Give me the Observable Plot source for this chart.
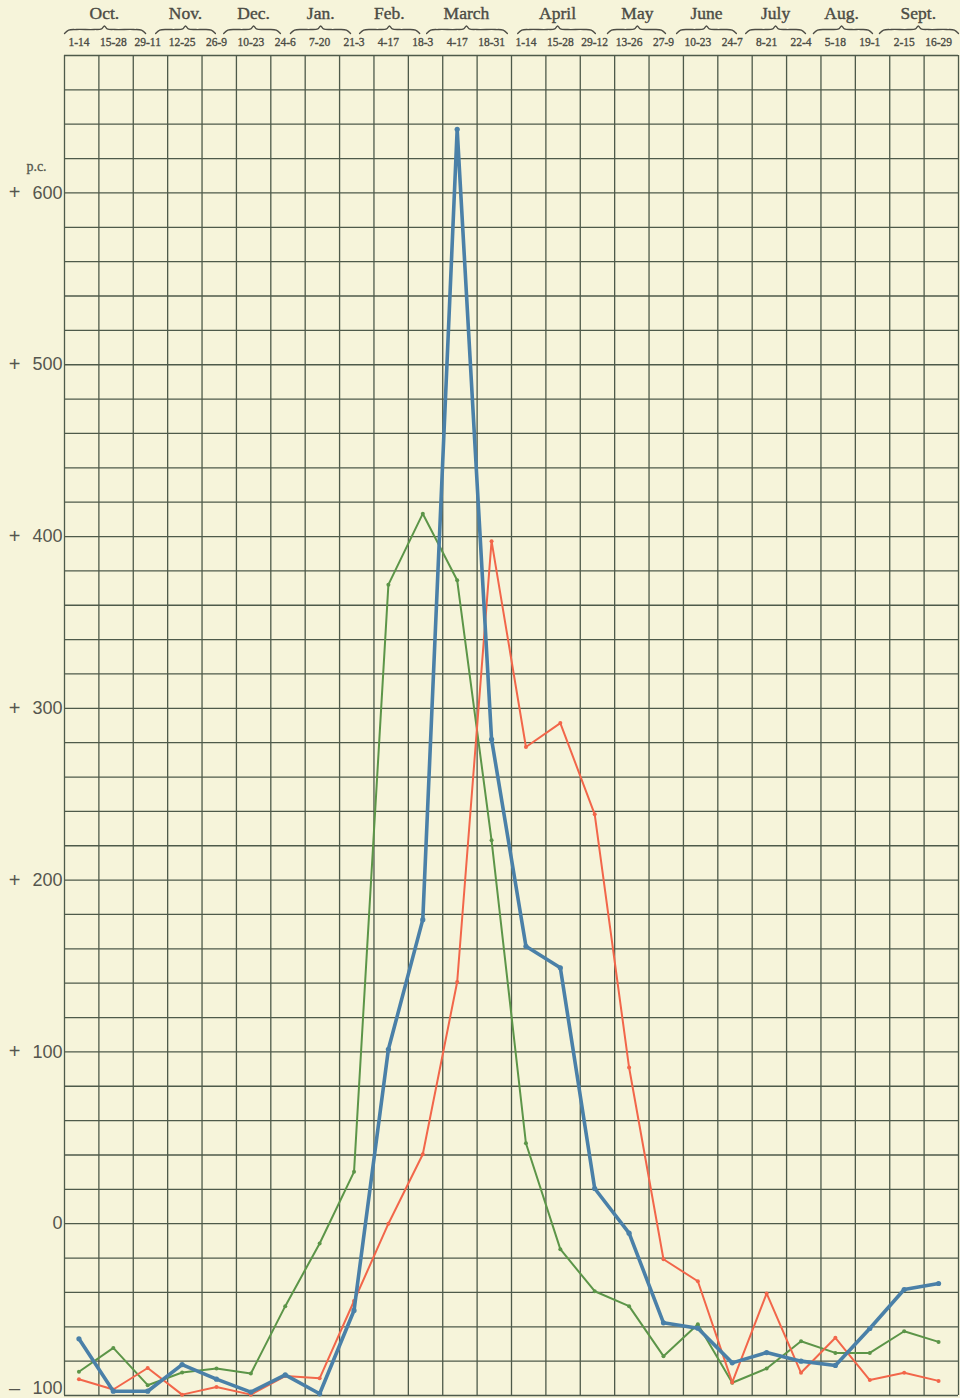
<!DOCTYPE html>
<html>
<head>
<meta charset="utf-8">
<script src="https://cdn.jsdelivr.net/npm/d3@7"></script>
<script src="https://cdn.jsdelivr.net/npm/@observablehq/plot@0.6"></script>
<style>
  html, body { margin: 0; padding: 0; background: #f6f4da; }
  #chart svg { display: block; }
</style>
</head>
<body>
<div id="chart"></div>
<script>
// ---- data ----
const periods = ["1-14","15-28","29-11","12-25","26-9","10-23","24-6","7-20","21-3","4-17","18-3","4-17","18-31",
                 "1-14","15-28","29-12","13-26","27-9","10-23","24-7","8-21","22-4","5-18","19-1","2-15","16-29"];
const months = ["Oct.","Nov.","Dec.","Jan.","Feb.","March","April","May","June","July","Aug.","Sept."];
// span of each month's brace, in period units (start, tip, end)
const monthStart = [0.0, 2.65, 4.63, 6.57, 8.58, 10.53, 13.18, 15.79, 17.80, 19.81, 21.78, 23.70];
const monthTip   = [1.16, 3.52, 5.50, 7.45, 9.45, 11.69, 14.34, 16.66, 18.67, 20.68, 22.60, 24.83];
const monthEnd   = [2.36, 4.39, 6.28, 8.32, 10.33, 12.88, 15.44, 17.48, 19.54, 21.55, 23.50, 26.0];

const blueSeries  = [-67, -97.5, -97.5, -82, -90.5, -98, -88, -99, -50.5, 101.5, 177, 637, 282,
                     161.5, 149, 20.5, -5.5, -57.7, -60.8, -81, -75, -80, -82.5, -61, -38.3, -34.8];
const redSeries   = [-90.5, -96.5, -84, -99.5, -95, -99.5, -88.7, -90, -45, 0, 40.4, 140.7, 397.3,
                     277.5, 291.4, 238.3, 90.9, -20.7, -33.5, -92.4, -40.6, -86.8, -66.4, -91, -86.8, -91.5];
const greenSeries = [-86.2, -72.3, -94, -86.6, -84.3, -87.2, -48, -11.5, 30.2, 372, 413.3, 374.5, 223.2,
                     46.8, -14.8, -39.3, -48, -77.1, -58.5, -92.6, -84.3, -68.4, -75.2, -75.2, -62.6, -68.8];

const yTickValues = [600, 500, 400, 300, 200, 100, 0, -100];
const yTickSigns  = ["+", "+", "+", "+", "+", "+", "", "\u2013"];
const unitLabel = "p.c.";

// ---- layout constants ----
const W = 960, H = 1398, mTop = 55, mBottom = 3, mLeft = 64, mRight = 2;
const yMin = -100, yMax = 680;
const pxPerUnit = (H - mTop - mBottom) / (yMax - yMin);
const yAtPx = px => yMax + (mTop - px) / pxPerUnit; // convert header pixel row to y value
const xOff = 0.42; // points sit slightly left of column centres in the original

const gridColor = "#4e5a4a";
const textColor = "#55564e";
const headColor = "#4c4c45";
const blueC = "#4a80a8", redC = "#f2664a", greenC = "#5c9548";

const mk = (vals, name) => vals.map((v, i) => ({i: i + xOff, v, name}));
const blue = mk(blueSeries, "blue"), red = mk(redSeries, "red"), green = mk(greenSeries, "green");

const monthData = months.map((m, k) => ({m, s: monthStart[k], t: monthTip[k], e: monthEnd[k]}));
const bracePts = monthData.flatMap(({m, s, t, e}) => [
  [s, 33], [s + 0.12, 29.6], [s + 0.35, 29], [t - 0.3, 29], [t - 0.08, 28.4], [t, 25.5],
  [t + 0.08, 28.4], [t + 0.3, 29], [e - 0.35, 29], [e - 0.12, 29.6], [e, 33]
].map(([x, py]) => ({m, x, y: yAtPx(py)})));

const periodData = periods.map((p, i) => ({p, x: i + xOff}));
const yLab = yTickValues.map((v, k) => ({v, s: yTickSigns[k], t: String(Math.abs(v))}));
const yLabMain = yLab.filter(d => d.v !== yMin);
const yLabBottom = yLab.filter(d => d.v === yMin);

const serif = "Liberation Serif, DejaVu Serif, serif";
const sans = "Liberation Sans, Arial, sans-serif";

const yLabelMarks = (data, dy) => [
  Plot.text(data, {x: 0, y: "v", dx: -2, dy, text: "t", textAnchor: "end", fill: textColor,
    fontFamily: sans, fontSize: 18}),
  Plot.text(data, {x: 0, y: "v", dx: -50, dy, text: "s", textAnchor: "middle", fill: textColor,
    fontFamily: sans, fontSize: 20})
];

const chart = Plot.plot({
  width: W, height: H,
  marginTop: mTop, marginBottom: mBottom, marginLeft: mLeft, marginRight: mRight,
  x: {domain: [0, 26], axis: null},
  y: {domain: [yMin, yMax], axis: null},
  style: {background: "#f6f4da", overflow: "visible"},
  marks: [
    Plot.ruleY(d3.range(yMin, yMax + 1, 20), {stroke: gridColor, strokeWidth: 1.3}),
    Plot.ruleX(d3.range(0, 27), {stroke: gridColor, strokeWidth: 1.3}),
    Plot.line(green, {x: "i", y: "v", stroke: greenC, strokeWidth: 2}),
    Plot.dot(green, {x: "i", y: "v", r: 2, fill: greenC}),
    Plot.line(red, {x: "i", y: "v", stroke: redC, strokeWidth: 2}),
    Plot.dot(red, {x: "i", y: "v", r: 2, fill: redC}),
    Plot.line(blue, {x: "i", y: "v", stroke: blueC, strokeWidth: 3.6}),
    Plot.dot(blue, {x: "i", y: "v", r: 2.6, fill: blueC}),
    // header: period labels
    Plot.text(periodData, {x: "x", y: yMax, dy: -13, text: "p", fill: headColor,
      stroke: headColor, strokeWidth: 0.35, fontFamily: serif, fontSize: 11.5}),
    // header: braces
    Plot.line(bracePts, {x: "x", y: "y", z: "m", stroke: headColor, strokeWidth: 1.3, curve: "catmull-rom"}),
    // header: month names
    Plot.text(monthData, {x: "t", y: yMax, dy: -42, text: "m", fill: headColor,
      stroke: headColor, strokeWidth: 0.4, fontFamily: serif, fontSize: 17.5}),
    // y labels
    ...yLabelMarks(yLabMain, 0),
    ...yLabelMarks(yLabBottom, -7),
    Plot.text([unitLabel], {x: 0, y: 600, dx: -28, dy: -26, text: d => d, textAnchor: "middle", fill: textColor,
      stroke: textColor, strokeWidth: 0.3, fontFamily: serif, fontSize: 14})
  ]
});
document.getElementById("chart").appendChild(chart);
</script>
</body>
</html>
